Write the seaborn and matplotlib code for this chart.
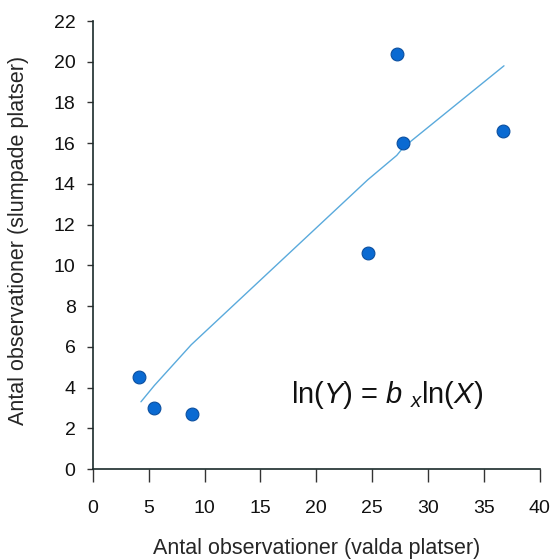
import matplotlib
matplotlib.use("Agg")
import matplotlib.pyplot as plt
import seaborn as sns
import pandas as pd

# Observed data
x_obs = [4.1, 5.5, 8.9, 24.6, 27.2, 27.8, 36.7]
y_obs = [4.5, 3.0, 2.7, 10.6, 20.4, 16.0, 16.6]
# Fitted curve values read at the same x positions
x_fit = [4.3, 5.5, 8.8, 24.6, 27.2, 27.8, 36.8]
y_fit = [3.3, 4.1, 6.1, 14.2, 15.4, 15.8, 19.8]

x_ticks = [0, 5, 10, 15, 20, 25, 30, 35, 40]
y_ticks = [0, 2, 4, 6, 8, 10, 12, 14, 16, 18, 20, 22]

sns.set_style("ticks")
plt.rcParams['font.family'] = ['Liberation Sans', 'DejaVu Sans']
plt.rcParams['mathtext.fontset'] = 'custom'
plt.rcParams['mathtext.rm'] = 'Liberation Sans'
plt.rcParams['mathtext.it'] = 'Liberation Sans:italic'

fig = plt.figure(figsize=(5.53, 5.6), dpi=100)
ax = fig.add_axes([0.168, 0.1625, 0.808, 0.80])

df_obs = pd.DataFrame({"x": x_obs, "y": y_obs})
df_fit = pd.DataFrame({"x": x_fit, "y": y_fit})

sns.lineplot(data=df_fit, x="x", y="y", ax=ax, color="#5aaadc", linewidth=1.0, sort=True)
sns.scatterplot(data=df_obs, x="x", y="y", ax=ax, color="#0a6ad2", edgecolor="#0b4fa0",
                linewidth=0.8, s=85, zorder=3)

ax.set_xlim(0, 40)
ax.set_ylim(0, 22)
ax.set_xticks(x_ticks)
ax.set_yticks(y_ticks)
ax.tick_params(axis='both', labelsize=14, direction='out', width=1, colors='#333333',
               labelcolor='#111111')
ax.tick_params(axis='x', length=9.5, pad=13)
ax.tick_params(axis='y', length=4.5, pad=8)
for side in ['top', 'right']:
    ax.spines[side].set_visible(False)
for side in ['left', 'bottom']:
    ax.spines[side].set_color('#1a2a2a')
    ax.spines[side].set_linewidth(1.2)

ax.set_xlabel("Antal observationer (valda platser)", fontsize=15.5)
ax.set_ylabel("Antal observationer (slumpade platser)", fontsize=15.5)
ax.yaxis.set_label_coords(-0.143, 0.51)
ax.xaxis.set_label_coords(0.5, -0.155)

ax.text(0.658, 0.165, r"ln($Y$) = $b$ $_{x}$ln($X$)", transform=ax.transAxes,
        fontsize=21, ha='center', va='center', color='#111111')

fig.savefig("out.png", dpi=100)
